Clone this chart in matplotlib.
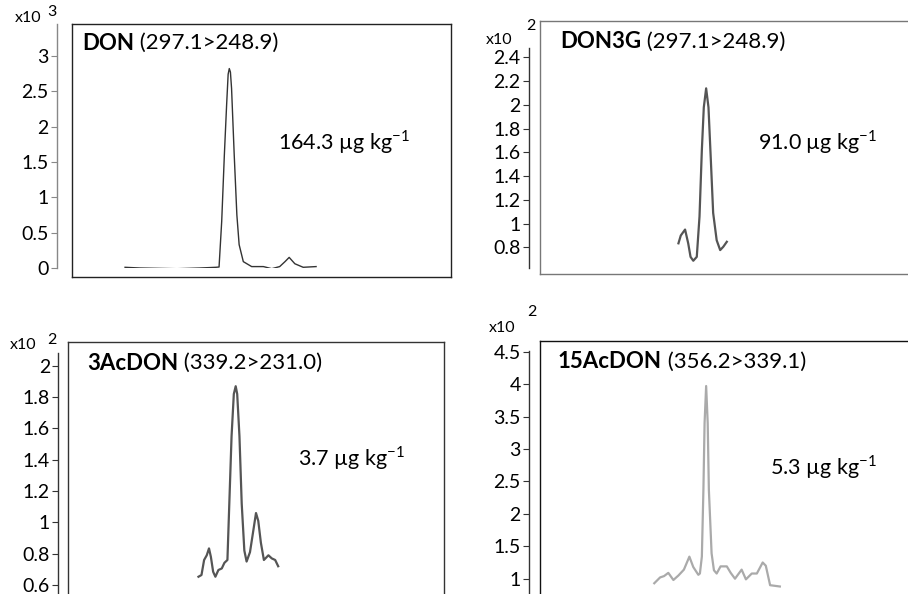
import matplotlib.pyplot as plt

plt.rcParams['font.family'] = ['Lato', 'DejaVu Sans']

W, H = 908, 594

# retention time (arbitrary units, 0-10 across each box) and signal
don_t = [1.40, 1.79, 2.77, 3.38, 3.80, 3.88, 3.95, 4.02, 4.08, 4.12, 4.15, 4.18, 4.21,
         4.28, 4.35, 4.41, 4.52, 4.74, 5.05, 5.27, 5.48, 5.62, 5.73, 5.88, 6.10, 6.44]
don_y = [0.01, 0.0, -0.01, 0.0, 0.01, 0.014, 0.66, 1.60, 2.31, 2.74, 2.82, 2.77, 2.54,
         1.60, 0.75, 0.33, 0.09, 0.02, 0.02, -0.01, 0.02, 0.09, 0.15, 0.06, 0.01, 0.02]

don3g_t = [3.55, 3.61, 3.72, 3.80, 3.86, 3.93, 4.02, 4.09, 4.15, 4.20, 4.26, 4.32, 4.38,
           4.44, 4.53, 4.62, 4.70, 4.79]
don3g_y = [0.834, 0.90, 0.95, 0.834, 0.72, 0.687, 0.72, 1.06, 1.62, 1.98, 2.14, 1.98, 1.54,
           1.09, 0.86, 0.777, 0.805, 0.847]

ac3_t = [3.47, 3.55, 3.62, 3.69, 3.75, 3.80, 3.86, 3.92, 4.00, 4.09, 4.16, 4.24, 4.29, 4.35,
         4.41, 4.46, 4.50, 4.56, 4.62, 4.69, 4.75, 4.84, 4.93, 5.00, 5.06, 5.13, 5.21, 5.33,
         5.42, 5.51, 5.59]
ac3_y = [0.653, 0.664, 0.76, 0.79, 0.834, 0.78, 0.685, 0.653, 0.696, 0.706, 0.742, 0.76, 1.12,
         1.55, 1.82, 1.87, 1.82, 1.55, 1.12, 0.82, 0.75, 0.81, 0.95, 1.06, 1.01, 0.87, 0.76, 0.79,
         0.77, 0.76, 0.72]

ac15_t = [2.93, 3.08, 3.18, 3.29, 3.42, 3.55, 3.69, 3.83, 3.93, 4.06, 4.10, 4.15, 4.19, 4.22,
          4.26, 4.30, 4.33, 4.40, 4.46, 4.53, 4.63, 4.79, 4.89, 5.00, 5.17, 5.28, 5.43, 5.56,
          5.71, 5.79, 5.90, 6.15]
ac15_y = [0.93, 1.02, 1.04, 1.09, 0.98, 1.05, 1.14, 1.34, 1.18, 1.06, 1.08, 1.34, 2.37, 3.40,
          3.97, 3.40, 2.37, 1.39, 1.13, 1.08, 1.19, 1.19, 1.09, 1.0, 1.14, 0.99, 1.08, 1.08,
          1.25, 1.2, 0.9, 0.88]

panels = [
    dict(name='DON', trans=' (297.1>248.9)', conc='164.3', exp='3', t=don_t, y=don_y,
         ticks=[0, 0.5, 1, 1.5, 2, 2.5, 3], labels=['0', '0.5', '1', '1.5', '2', '2.5', '3'],
         box=(72, 24, 451, 277), axis=(61, 24, 268), ylim=(0.0, 3.45),
         title_xy=(82, 43), conc_xy=(278, 142), x10=(28, 18), sup=(52, 12),
         box_color='#222222', axis_color='#888888', line_color='#333333', lw=1.0),
    dict(name='DON3G', trans=' (297.1>248.9)', conc='91.0', exp='2', t=don3g_t, y=don3g_y,
         ticks=[0.8, 1, 1.2, 1.4, 1.6, 1.8, 2, 2.2, 2.4],
         labels=['0.8', '1', '1.2', '1.4', '1.6', '1.8', '2', '2.2', '2.4'],
         box=(540, 21, 930, 274), axis=(532, 48, 268), ylim=(0.626, 2.48),
         title_xy=(560, 42), conc_xy=(758, 142), x10=(499, 40), sup=(531, 26),
         box_color='#777777', axis_color='#333333', line_color='#555555', lw=1.6),
    dict(name='3AcDON', trans=' (339.2>231.0)', conc='3.7', exp='2', t=ac3_t, y=ac3_y,
         ticks=[0.6, 0.8, 1, 1.2, 1.4, 1.6, 1.8, 2],
         labels=['0.6', '0.8', '1', '1.2', '1.4', '1.6', '1.8', '2'],
         box=(68, 342, 444, 640), axis=(61, 353, 614), ylim=(0.415, 2.082),
         title_xy=(87, 363), conc_xy=(298, 458), x10=(23, 345), sup=(52, 340),
         box_color='#333333', axis_color='#333333', line_color='#555555', lw=1.6),
    dict(name='15AcDON', trans=' (356.2>339.1)', conc='5.3', exp='2', t=ac15_t, y=ac15_y,
         ticks=[1, 1.5, 2, 2.5, 3, 3.5, 4, 4.5],
         labels=['1', '1.5', '2', '2.5', '3', '3.5', '4', '4.5'],
         box=(540, 341, 930, 640), axis=(532, 351, 614), ylim=(0.456, 4.51),
         title_xy=(558, 362), conc_xy=(770, 467), x10=(502, 328), sup=(532, 312),
         box_color='#111111', axis_color='#333333', line_color='#aaaaaa', lw=1.6),
]

fig = plt.figure(figsize=(W / 100, H / 100), dpi=100)


def fx(px):
    return px / W


def fy(py):
    return 1 - py / H


for p in panels:
    x0, y0, x1, y1 = p['box']
    # frame around the trace
    fr = fig.add_axes([fx(x0), fy(y1), fx(x1 - x0), (y1 - y0) / H])
    fr.set_xticks([])
    fr.set_yticks([])
    for s in fr.spines.values():
        s.set_color(p['box_color'])
        s.set_linewidth(1.0)
    fr.patch.set_alpha(0)

    # data axes, its y axis pulled out to the left of the frame
    ax_x, ay0, ay1 = p['axis']
    ax = fig.add_axes([fx(x0), fy(ay1), fx(x1 - x0), (ay1 - ay0) / H])
    ax.patch.set_alpha(0)
    for k in ['top', 'right', 'bottom']:
        ax.spines[k].set_visible(False)
    ax.spines['left'].set_position(('outward', x0 - ax_x))
    ax.spines['left'].set_color(p['axis_color'])
    ax.spines['left'].set_linewidth(1.0)
    ax.set_xticks([])
    ax.set_xlim(0, 10)
    ax.set_ylim(*p['ylim'])
    ax.set_yticks(p['ticks'])
    ax.set_yticklabels(p['labels'])
    ax.tick_params(axis='y', length=4, width=0.8, color=p['axis_color'],
                   labelsize=14, pad=2)
    ax.plot(p['t'], p['y'], color=p['line_color'], lw=p['lw'])

    t1 = fig.text(fx(p['title_xy'][0]), fy(p['title_xy'][1]), p['name'],
                  fontsize=16, fontweight='bold', va='center', ha='left')
    fig.canvas.draw()
    bb = t1.get_window_extent()
    fig.text(bb.x1 / W, fy(p['title_xy'][1]), p['trans'], fontsize=16,
             va='center', ha='left')
    fig.text(fx(p['conc_xy'][0]), fy(p['conc_xy'][1]),
             p['conc'] + ' µg kg$^{\\mathregular{-1}}$', fontsize=15.5,
             va='center', ha='left')
    fig.text(fx(p['x10'][0]), fy(p['x10'][1]), 'x10', fontsize=11.5,
             va='center', ha='center')
    fig.text(fx(p['sup'][0]), fy(p['sup'][1]), p['exp'], fontsize=11.5,
             va='center', ha='center')

fig.savefig('out.png', dpi=100)
